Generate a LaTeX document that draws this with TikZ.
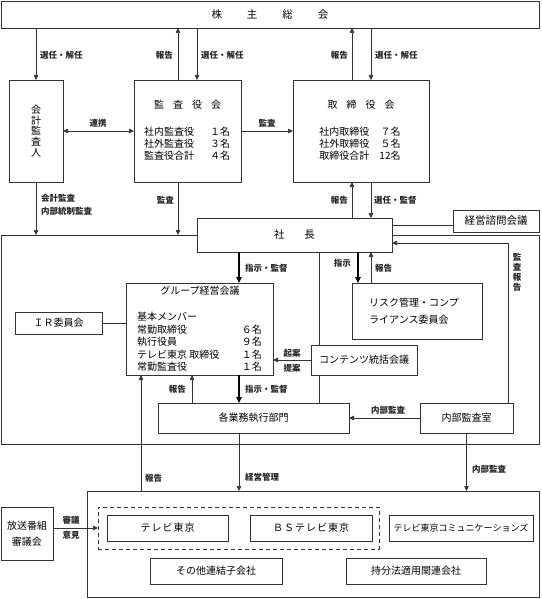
\documentclass[tikz,border=0pt]{standalone}
\usepackage{fontspec}
\setmainfont{Noto Sans CJK JP}
\usetikzlibrary{arrows.meta}
\definecolor{lc}{HTML}{333333}
\begin{document}
\begin{tikzpicture}[x=1pt,y=-1pt,
  box/.style={draw=lc, line width=0.7pt, fill=white, inner sep=0pt, outer sep=0pt, font=\fontsize{10}{12}\selectfont},
  plain/.style={draw=lc, line width=0.7pt},
  arr/.style={plain, -{Triangle[length=5pt,width=4.5pt]}},
  arrb/.style={plain, {Triangle[length=5pt,width=4.5pt]}-{Triangle[length=5pt,width=4.5pt]}},
  tarr/.style={draw=black, line width=1.5pt, -{Triangle[length=6pt,width=5.5pt]}},
  lbl/.style={font=\fontsize{8.5}{10}\selectfont\bfseries, inner sep=0pt, text=black!85},
  txt/.style={font=\fontsize{10}{12.5}\selectfont, inner sep=0pt}]
\useasboundingbox (0,0) rectangle (541,599);
% guides
\coordinate (xA) at (36,0);
\coordinate (xB) at (178,0);
\coordinate (xC) at (197,0);
\coordinate (xD) at (352,0);
\coordinate (xE) at (371,0);
\coordinate (xF) at (358,0);
\coordinate (xG) at (319,0);
\coordinate (xI) at (239,0);
\coordinate (xJ) at (192,0);
\coordinate (xL) at (141,0);
\coordinate (yK) at (0,225);
\coordinate (kh) at (508,243);
\coordinate (yS) at (0,528);
% outer company box
\node[box, minimum width=538pt, minimum height=209pt] (outer) at (270,339.5) {};
% boxes
\node[box, minimum width=538pt, minimum height=27pt, font=\fontsize{10.5}{12}\selectfont] (kabu) at (270,14.5) {株\hspace{25pt}主\hspace{25pt}総\hspace{25pt}会};
\node[box, minimum width=54pt, minimum height=102pt, align=center, font=\fontsize{10}{10.8}\selectfont] (kaikei) at (36,131) {会\\計\\監\\査\\人};
\node[box, minimum width=107pt, minimum height=102pt] (kansa) at (187.5,131) {};
\node[txt] (kansaT) at (187.5,105) {監\hspace{9pt}査\hspace{9pt}役\hspace{9pt}会};
\node[txt, align=left] (kansaL) at (187,145) {\begin{tabular}{@{}l@{\hspace{16pt}}r@{}}社内監査役&１名\\[-0.5pt]社外監査役&３名\\[-0.5pt]監査役合計&４名\end{tabular}};
\node[box, minimum width=136pt, minimum height=102pt] (tori) at (361,131) {};
\node[txt] (toriT) at (361,105) {取\hspace{9pt}締\hspace{9pt}役\hspace{9pt}会};
\node[txt, align=left] (toriL) at (360,145) {\begin{tabular}{@{}l@{\hspace{10pt}}r@{}}社内取締役&７名\\[-0.5pt]社外取締役&５名\\[-0.5pt]取締役合計&12名\end{tabular}};
\node[box, minimum width=195pt, minimum height=34pt, font=\fontsize{10.5}{12}\selectfont] (shacho) at (294.5,235) {社\hspace{20pt}長};
\node[box, minimum width=86pt, minimum height=22pt, font=\fontsize{10.5}{12}\selectfont] (keiei) at (496,221) {経営諮問会議};
\node[box, minimum width=130pt, minimum height=56pt] (risk) at (417,311) {};
\node[txt, align=left, anchor=west, font=\fontsize{10}{17}\selectfont] (riskT) at (369,311.5) {リスク管理・コンプ\\ライアンス委員会};
\node[box, minimum width=147pt, minimum height=92pt] (group) at (199.5,329) {};
\node[txt] (groupT) at (200,291) {グループ経営会議};
\node[txt, anchor=west] (g1) at (137,317) {基本メンバー};
\node[txt, anchor=west] (g2) at (137,329.5) {常勤取締役};
\node[txt, anchor=west] (g3) at (137,342) {執行役員};
\node[txt, anchor=west] (g4) at (137,354.5) {テレビ東京\ 取締役};
\node[txt, anchor=west] (g5) at (137,367) {常勤監査役};
\node[txt, anchor=east] (n2) at (262,329.5) {６名};
\node[txt, anchor=east] (n3) at (262,342) {９名};
\node[txt, anchor=east] (n4) at (262,354.5) {１名};
\node[txt, anchor=east] (n5) at (262,367) {１名};
\node[box, minimum width=87pt, minimum height=22pt] (ir) at (58.5,323) {ＩＲ委員会};
\node[box, minimum width=106pt, minimum height=30pt] (content) at (364,360) {コンテンツ統括会議};
\node[box, minimum width=191pt, minimum height=30pt] (gyomu) at (253.5,418) {各業務執行部門};
\node[box, minimum width=93pt, minimum height=30pt] (naibu) at (466.5,418) {内部監査室};
% subsidiaries
\node[box, minimum width=452pt, minimum height=106pt] (sub) at (313,544) {};
\node[draw=lc, line width=0.7pt, dash pattern=on 4pt off 3pt, inner sep=0pt, outer sep=0pt, minimum width=281pt, minimum height=42pt] (dashed) at (238.5,528) {};
\node[box, minimum width=121pt, minimum height=26pt] (tvt) at (167.5,528) {テ\hspace{1pt}レ\hspace{1pt}ビ\hspace{1pt}東\hspace{1pt}京};
\node[box, minimum width=122pt, minimum height=26pt] (bs) at (311,528) {Ｂ\hspace{1pt}Ｓ\hspace{1pt}テ\hspace{1pt}レ\hspace{1pt}ビ\hspace{1pt}東\hspace{1pt}京};
\node[box, minimum width=144pt, minimum height=26pt, font=\fontsize{9}{11}\selectfont] (tvtc) at (461,528) {テレビ東京コミュニケーションズ};
\node[box, minimum width=132pt, minimum height=26pt] (other) at (216,571) {その他連結子会社};
\node[box, minimum width=140pt, minimum height=26pt] (mochi) at (416,571) {持分法適用関連会社};
\node[box, minimum width=52pt, minimum height=53pt, align=center, font=\fontsize{10}{16}\selectfont] (hoso) at (27,533.5) {放送番組\\審議会};
% connectors
\draw[arr] (kabu.south -| xA) -- (kaikei.north);
\draw[arr] (kaikei.south) -- (outer.north -| kaikei.south);
\draw[arr] (kansa.north -| xB) -- (kabu.south -| xB);
\draw[arr] (kabu.south -| xC) -- (kansa.north -| xC);
\draw[arr] (kansa.south -| xB) -- (outer.north -| xB);
\draw[arr] (tori.north -| xD) -- (kabu.south -| xD);
\draw[arr] (kabu.south -| xE) -- (tori.north -| xE);
\draw[arr] (shacho.north -| xD) -- (tori.south -| xD);
\draw[arr] (tori.south -| xE) -- (shacho.north -| xE);
\draw[arrb] (kaikei.east) -- (kansa.west);
\draw[arr] (kansa.east) -- (tori.west);
\draw[plain] (shacho.east |- yK) -- (keiei.west |- yK);
\draw[arr] (naibu.north -| kh) -- (kh) -- (shacho.east |- kh);
\draw[tarr] (shacho.south -| xF) -- (risk.north -| xF);
\draw[arr] (risk.north -| xE) -- (shacho.south -| xE);
\draw[plain] (shacho.south -| xG) -- (content.north -| xG);
\draw[plain] (content.south -| xG) -- (gyomu.north -| xG);
\draw[tarr] (shacho.south -| xI) -- (group.north -| xI);
\draw[tarr] (group.south -| xI) -- (gyomu.north -| xI);
\draw[arr] (gyomu.north -| xJ) -- (group.south -| xJ);
\draw[arr] (content.west) -- (group.east |- content.west);
\draw[plain] (ir.east) -- (group.west |- ir.east);
\draw[arr] (sub.north -| xL) -- (group.south -| xL);
\draw[arr] (naibu.west) -- (gyomu.east |- naibu.west);
\draw[arr] (naibu.south) -- (sub.north -| naibu.south);
\draw[arr] (gyomu.south -| xI) -- (sub.north -| xI);
\draw[arr] (hoso.east |- yS) -- (dashed.west);
% labels
\node[lbl, anchor=west] (l1) at (40,55) {選任・解任};
\node[lbl, anchor=east] (l2) at (173,55) {報告};
\node[lbl, anchor=west] (l3) at (201,55) {選任・解任};
\node[lbl, anchor=east] (l4) at (348,55) {報告};
\node[lbl, anchor=west] (l5) at (375,55) {選任・解任};
\node[lbl] (l6) at (98,123) {連携};
\node[lbl] (l7) at (267,123) {監査};
\node[lbl, anchor=west, align=left, font=\fontsize{8.5}{12.5}\selectfont\bfseries] (l8) at (41,205) {会計監査\\内部統制監査};
\node[lbl, anchor=east] (l9) at (174,200) {監査};
\node[lbl, anchor=east] (l10) at (348,200) {報告};
\node[lbl, anchor=west] (l11) at (374,200) {選任・監督};
\node[lbl, anchor=west] (l12) at (245,268) {指示・監督};
\node[lbl, anchor=east] (l13) at (351,263) {指示};
\node[lbl, anchor=west] (l14) at (375,268) {報告};
\node[lbl, align=center, font=\fontsize{8.5}{10}\selectfont\bfseries] (l15) at (517,272) {監\\査\\報\\告};
\node[lbl, align=center, font=\fontsize{8.5}{15}\selectfont\bfseries] (l16) at (292,360.5) {起案\\提案};
\node[lbl, anchor=east] (l17) at (186,389) {報告};
\node[lbl, anchor=west] (l18) at (245,389) {指示・監督};
\node[lbl] (l19) at (388,410) {内部監査};
\node[lbl, anchor=west] (l20) at (145,478) {報告};
\node[lbl, anchor=west] (l21) at (245,477) {経営管理};
\node[lbl, anchor=west] (l22) at (472,469) {内部監査};
\node[lbl, align=center, font=\fontsize{8.5}{15}\selectfont\bfseries] (l23) at (71,528) {審議\\意見};
\end{tikzpicture}
\end{document}
